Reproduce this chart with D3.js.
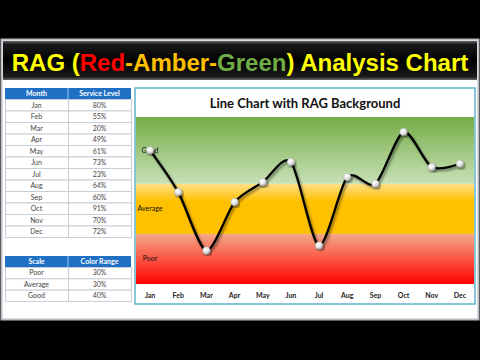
<!DOCTYPE html>
<html>
<head>
<meta charset="utf-8">
<script src="https://cdn.jsdelivr.net/npm/d3@7"></script>
<style>
  html, body { margin: 0; padding: 0; background: #000; }
  svg { display: block; }
</style>
</head>
<body>
<div id="chart"></div>
<script>
// ---- data ----
const months = ['Jan', 'Feb', 'Mar', 'Apr', 'May', 'Jun', 'Jul', 'Aug', 'Sep', 'Oct', 'Nov', 'Dec'];
const serviceLevel = [80, 55, 20, 49, 61, 73, 23, 64, 60, 91, 70, 72];
const scaleNames = ['Poor', 'Average', 'Good'];
const colorRange = [30, 30, 40];

const W = 480, H = 360;
const svg = d3.select('#chart').append('svg').attr('width', W).attr('height', H);
const defs = svg.append('defs');

function grad(id, stops, vertical = true) {
    const g = defs.append('linearGradient').attr('id', id)
        .attr('x1', 0).attr('y1', 0).attr('x2', vertical ? 0 : 1).attr('y2', vertical ? 1 : 0);
    stops.forEach(([o, c]) => g.append('stop').attr('offset', o).attr('stop-color', c));
}
grad('bar', [[0, '#6a6a6a'], [0.08, '#1a1a1a'], [0.5, '#000'], [0.92, '#1a1a1a'], [1, '#6a6a6a']]);
grad('bandGood', [[0, '#74ac47'], [1, '#c8e1b6']]);
grad('bandAvg', [[0, '#ffe08a'], [0.35, '#ffc000'], [1, '#ffc000']]);
grad('bandPoor', [[0, '#f5a987'], [1, '#ff0000']]);
const rg = defs.append('radialGradient').attr('id', 'ball').attr('cx', '40%').attr('cy', '35%').attr('r', '65%');
rg.append('stop').attr('offset', 0).attr('stop-color', '#ffffff');
rg.append('stop').attr('offset', 0.6).attr('stop-color', '#e6e6e6');
rg.append('stop').attr('offset', 1).attr('stop-color', '#9a9a9a');
const sh = defs.append('filter').attr('id', 'shadow').attr('x', '-10%').attr('y', '-10%').attr('width', '130%').attr('height', '130%');
sh.append('feDropShadow').attr('dx', 1.5).attr('dy', 2).attr('stdDeviation', 1.2).attr('flood-color', '#000').attr('flood-opacity', 0.45);

// ---- page panel ----
svg.append('rect').attr('x', 1.5).attr('y', 39.5).attr('width', 477).attr('height', 280)
    .attr('fill', '#fff').attr('stroke', '#b8bcc4').attr('stroke-width', 2);
svg.append('rect').attr('x', 3).attr('y', 41).attr('width', 474).attr('height', 39).attr('fill', 'url(#bar)');

// title: shrink font until it fits in the bar
const title = svg.append('text').attr('x', 240).attr('y', 71).attr('text-anchor', 'middle')
    .attr('font-family', "'Liberation Sans', Arial, sans-serif").attr('font-weight', 700).attr('font-size', 26);
[['RAG (', '#ffff00'], ['Red', '#ff0000'], ['-Amber-', '#ffc000'], ['Green', '#70ad47'], [') Analysis Chart', '#ffff00']]
    .forEach(([t, c]) => title.append('tspan').attr('fill', c).text(t));
let fs = 26;
while (title.node().getComputedTextLength() > 458 && fs > 10) {
    fs -= 0.25;
    title.attr('font-size', fs);
}

// ---- tables ----
function table(x0, y0, colW, headH, rowH, header, rows) {
    const g = svg.append('g').attr('font-family', "Lato, 'Open Sans', sans-serif").attr('font-size', 7);
    g.append('rect').attr('x', x0).attr('y', y0).attr('width', colW[0] + colW[1]).attr('height', headH).attr('fill', '#1f6fc5');
    header.forEach((h, i) => {
        g.append('text').attr('x', x0 + (i ? colW[0] + colW[1] / 2 : colW[0] / 2)).attr('y', y0 + headH / 2 + 2.5)
            .attr('text-anchor', 'middle').attr('fill', '#fff').attr('font-weight', 700).text(h);
    });
    g.append('line').attr('x1', x0 + colW[0]).attr('x2', x0 + colW[0]).attr('y1', y0).attr('y2', y0 + headH).attr('stroke', '#9cc3ee');
    rows.forEach((r, j) => {
        const y = y0 + headH + j * rowH;
        g.append('rect').attr('x', x0 + 0.5).attr('y', y + 0.5).attr('width', colW[0]).attr('height', rowH)
            .attr('fill', '#fff').attr('stroke', '#c9ced6');
        g.append('rect').attr('x', x0 + colW[0] + 0.5).attr('y', y + 0.5).attr('width', colW[1]).attr('height', rowH)
            .attr('fill', '#fff').attr('stroke', '#c9ced6');
        r.forEach((v, i) => g.append('text').attr('x', x0 + (i ? colW[0] + colW[1] / 2 : colW[0] / 2)).attr('y', y + rowH / 2 + 2.8)
            .attr('text-anchor', 'middle').attr('fill', '#444').text(v));
    });
}
table(5, 88, [63, 63], 11, 11.5, ['Month', 'Service Level'], months.map((m, i) => [m, serviceLevel[i] + '%']));
table(5, 256, [63, 63], 11, 11.3, ['Scale', 'Color Range'], scaleNames.map((s, i) => [s, colorRange[i] + '%']));

// ---- chart ----
const box = { x: 135, y: 88, w: 340, h: 216 };
const plot = { left: 136, right: 474, top: 117, bottom: 284 };
svg.append('rect').attr('x', box.x).attr('y', box.y).attr('width', box.w).attr('height', box.h)
    .attr('fill', '#fff').attr('stroke', '#5fb4d0').attr('stroke-width', 1.5);
svg.append('text').attr('x', box.x + box.w / 2).attr('y', 108).attr('text-anchor', 'middle')
    .attr('font-family', "Lato, 'Open Sans', sans-serif").attr('font-weight', 700).attr('font-size', 13)
    .attr('fill', '#111').text('Line Chart with RAG Background');

const x = d3.scaleBand().domain(months).range([plot.left, plot.right]);
const y = d3.scaleLinear().domain([0, 100]).range([plot.bottom, plot.top]);

// RAG bands (stacked)
const stackTops = d3.cumsum(colorRange);
const bandFill = ['url(#bandPoor)', 'url(#bandAvg)', 'url(#bandGood)'];
scaleNames.forEach((s, i) => {
    const lo = i ? stackTops[i - 1] : 0, hi = stackTops[i];
    svg.append('rect').attr('x', plot.left).attr('width', plot.right - plot.left)
        .attr('y', y(hi)).attr('height', y(lo) - y(hi)).attr('fill', bandFill[i]);
    svg.append('text').attr('x', x(months[0]) + x.bandwidth() / 2).attr('y', y((lo + hi) / 2) + 2.5)
        .attr('text-anchor', 'middle').attr('font-family', "Lato, 'Open Sans', sans-serif")
        .attr('font-size', 7).attr('fill', '#111').text(s);
});

// x axis labels
svg.append('g').selectAll('text').data(months).join('text')
    .attr('x', d => x(d) + x.bandwidth() / 2).attr('y', 297.5).attr('text-anchor', 'middle')
    .attr('font-family', "Lato, 'Open Sans', sans-serif").attr('font-weight', 700).attr('font-size', 7)
    .attr('fill', '#222').text(d => d);

// smooth line
const line = d3.line().x((d, i) => x(months[i]) + x.bandwidth() / 2).y(d => y(d)).curve(d3.curveCardinal.tension(0.2));
svg.append('path').datum(serviceLevel).attr('d', line).attr('fill', 'none')
    .attr('stroke', '#000').attr('stroke-width', 2.3).attr('filter', 'url(#shadow)');

svg.append('g').selectAll('circle').data(serviceLevel).join('circle')
    .attr('cx', (d, i) => x(months[i]) + x.bandwidth() / 2).attr('cy', d => y(d)).attr('r', 3.8)
    .attr('fill', 'url(#ball)').attr('stroke', '#aaa').attr('stroke-width', 0.4).attr('filter', 'url(#shadow)');
</script>
</body>
</html>
